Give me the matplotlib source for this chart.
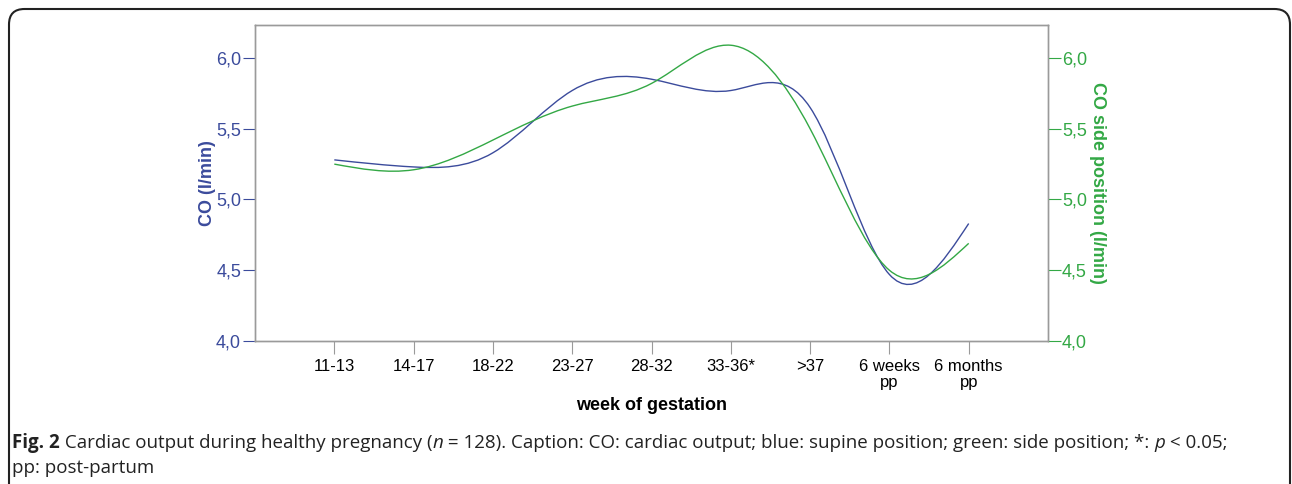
import numpy as np
import matplotlib
matplotlib.use("Agg")
import matplotlib.pyplot as plt
from matplotlib.path import Path
from matplotlib.patches import PathPatch, FancyBboxPatch

categories = ["11-13", "14-17", "18-22", "23-27", "28-32", "33-36*", ">37",
              "6 weeks\npp", "6 months\npp"]
co_supine = [5.28, 5.23, 5.33, 5.77, 5.85, 5.77, 5.65, 4.47, 4.83]
co_side = [5.25, 5.21, 5.42, 5.66, 5.82, 6.09, 5.50, 4.50, 4.69]
yticks = [4.0, 4.5, 5.0, 5.5, 6.0]
ytick_labels = ["4,0", "4,5", "5,0", "5,5", "6,0"]

BLUE = "#3b4b9c"
GREEN = "#33a845"
GRAY = "#9a9a9a"
FONT = "Liberation Sans"


def spline_path(x, y):
    """Natural cubic spline drawn as cubic Bezier segments."""
    x = np.asarray(x, float)
    y = np.asarray(y, float)
    n = len(x)
    h = np.diff(x)
    A = np.zeros((n, n))
    b = np.zeros(n)
    A[0, 0] = 1
    A[-1, -1] = 1
    for i in range(1, n - 1):
        A[i, i - 1] = h[i - 1]
        A[i, i] = 2 * (h[i - 1] + h[i])
        A[i, i + 1] = h[i]
        b[i] = 3 * ((y[i + 1] - y[i]) / h[i] - (y[i] - y[i - 1]) / h[i - 1])
    c = np.linalg.solve(A, b)
    verts = [(x[0], y[0])]
    codes = [Path.MOVETO]
    for i in range(n - 1):
        bi = (y[i + 1] - y[i]) / h[i] - h[i] * (2 * c[i] + c[i + 1]) / 3
        di = (y[i + 1] - y[i]) / h[i] + h[i] * (c[i] + 2 * c[i + 1]) / 3
        verts += [(x[i] + h[i] / 3, y[i] + bi * h[i] / 3),
                  (x[i + 1] - h[i] / 3, y[i + 1] - di * h[i] / 3),
                  (x[i + 1], y[i + 1])]
        codes += [Path.CURVE4] * 3
    return Path(verts, codes)


fig = plt.figure(figsize=(12.92, 4.84), dpi=100)
ax = fig.add_axes([255 / 1292, 143 / 484, 793 / 1292, 316 / 484])
ax2 = ax.twinx()

xpos = np.arange(1, len(categories) + 1)
ax.add_patch(PathPatch(spline_path(xpos, co_supine), facecolor="none",
                       edgecolor=BLUE, lw=1.0))
ax2.add_patch(PathPatch(spline_path(xpos, co_side), facecolor="none",
                        edgecolor=GREEN, lw=1.0))

for a in (ax, ax2):
    a.set_xlim(0, 10)
    a.set_ylim(4.0, 6.233)
    a.set_yticks(yticks)
    a.set_yticklabels(ytick_labels)
    for s in a.spines.values():
        s.set_color(GRAY)
        s.set_linewidth(1.0)

ax.set_xticks(xpos)
ax.set_xticklabels(categories, fontsize=12, family=FONT, linespacing=1.1)
ax.tick_params(axis="x", length=9, color=GRAY, pad=4)
ax.tick_params(axis="y", length=9, color=BLUE, labelcolor=BLUE, labelsize=13, pad=1)
ax2.tick_params(axis="y", length=9, color=GREEN, labelcolor=GREEN, labelsize=13, pad=1)
for lab in ax.get_yticklabels() + ax2.get_yticklabels():
    lab.set_family(FONT)

ax.set_xlabel("week of gestation", fontsize=13, fontweight="bold",
              family=FONT, labelpad=5)
ax.set_ylabel("CO (l/min)", fontsize=13, fontweight="bold", color=BLUE,
              family=FONT, labelpad=0)
ax2.set_ylabel("CO side position (l/min)", fontsize=13, fontweight="bold",
               color=GREEN, family=FONT, rotation=270, labelpad=14)

# outer rounded frame
frame = FancyBboxPatch((9 / 1292, -0.05), 1281 / 1292, 1.05 - 9 / 484,
                       boxstyle="round,pad=0,rounding_size=0.012",
                       transform=fig.transFigure, fill=False,
                       edgecolor="#222222", lw=1.5, mutation_aspect=1292 / 484)
fig.patches.append(frame)

# caption with mixed styles
CAP = "Open Sans"
cap_size = 13.5
pieces = [("Fig. 2", "bold", "normal"),
          (" Cardiac output during healthy pregnancy (", "normal", "normal"),
          ("n", "normal", "italic"),
          (" = 128). Caption: CO: cardiac output; blue: supine position; "
           "green: side position; *: ", "normal", "normal"),
          ("p", "normal", "italic"),
          (" < 0.05;", "normal", "normal")]
texts = []
for txt, w, st in pieces:
    texts.append(fig.text(12 / 1292, 1 - 448 / 484, txt, fontsize=cap_size,
                          family=CAP, fontweight=w, fontstyle=st,
                          color="#222222", va="baseline"))

fig.canvas.draw()
r = fig.canvas.get_renderer()
x0 = texts[0].get_window_extent(r).x1
for t in texts[1:]:
    t.set_position((x0 / 1292, 1 - 448 / 484))
    x0 = t.get_window_extent(r).x1

fig.text(12 / 1292, 1 - 473 / 484, "pp: post-partum", fontsize=cap_size,
         family=CAP, color="#222222", va="baseline")

fig.savefig("out.png", dpi=100)
